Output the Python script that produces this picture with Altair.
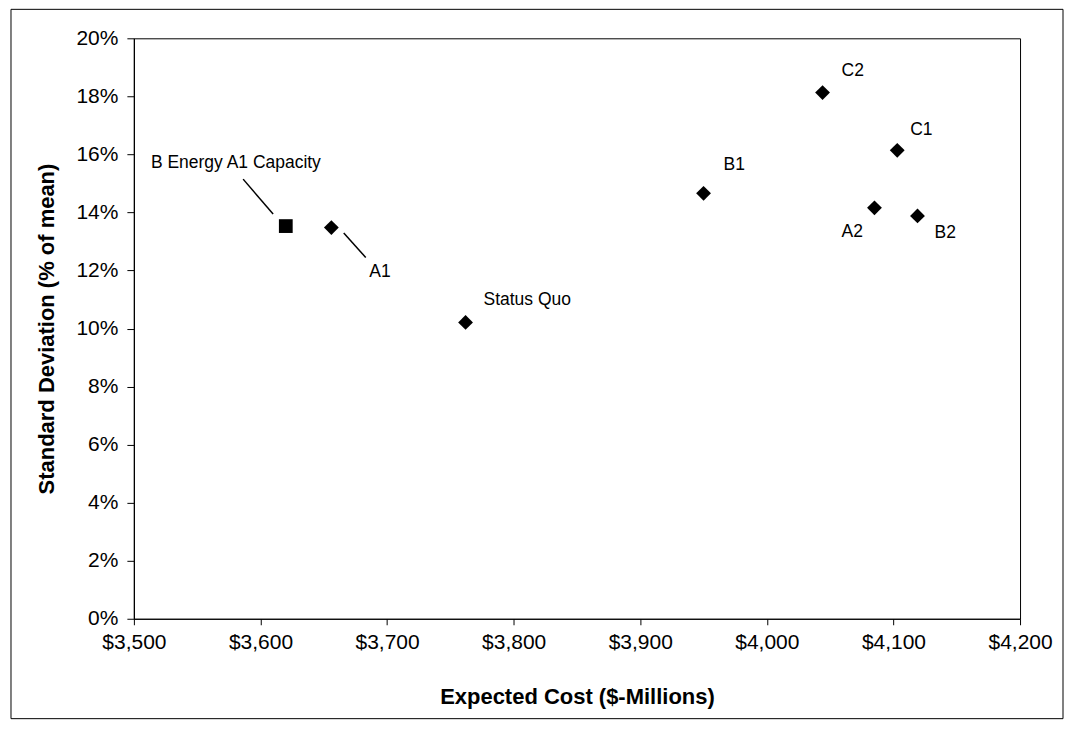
import altair as alt
import pandas as pd

# ---- data ----
names = ["B Energy A1 Capacity", "A1", "Status Quo", "B1", "C2", "A2", "C1", "B2"]
cost = [3620, 3656, 3762, 3950, 4044, 4085, 4103, 4119]        # $-Millions
sd_pct = [13.53, 13.48, 10.21, 14.66, 18.13, 14.16, 16.14, 13.88]  # % of mean
kind = ["square", "diamond", "diamond", "diamond", "diamond", "diamond", "diamond", "diamond"]

x_ticks = [3500, 3600, 3700, 3800, 3900, 4000, 4100, 4200]
y_ticks = [0, 2, 4, 6, 8, 10, 12, 14, 16, 18, 20]

df = pd.DataFrame({"name": names, "cost": cost, "sd": sd_pct, "kind": kind})

W, H = 887, 581
XDOM = [3500, 4200]
YDOM = [0, 20]
FONT = "Liberation Sans"

xs = alt.Scale(domain=XDOM, nice=False, zero=False)
ys = alt.Scale(domain=YDOM, nice=False, zero=True)

x_enc = alt.X("cost:Q", scale=xs,
              axis=alt.Axis(values=x_ticks, format="$,.0f", title="Expected Cost ($-Millions)",
                            grid=False, tickSize=6, labelPadding=7, labelFlush=False,
                            labelOverlap=False,
                            titleY=78, titleBaseline="middle"))
y_enc = alt.Y("sd:Q", scale=ys,
              axis=alt.Axis(values=y_ticks, labelExpr="datum.value + '%'",
                            title="Standard Deviation (% of mean)", grid=False,
                            tickSize=7, labelPadding=9, labelFlush=False,
                            labelOverlap=False,
                            titleX=-87, titleY=H / 2, titleAngle=-90,
                            titleAlign="center", titleBaseline="middle"))

base = alt.Chart(df)

squares = base.transform_filter("datum.kind == 'square'").mark_point(
    shape="square", filled=True, color="black", size=190, opacity=1
).encode(x=x_enc, y=y_enc)

diamonds = base.transform_filter("datum.kind == 'diamond'").mark_point(
    shape="diamond", filled=True, color="black", size=220, opacity=1
).encode(x="cost:Q", y="sd:Q")

# label offsets in pixels (style, not data)
label_offsets = {
    "B Energy A1 Capacity": (-135, -63),
    "A1": (38, 45),
    "Status Quo": (18, -22),
    "B1": (20, -28),
    "C2": (19, -22),
    "A2": (-33, 24),
    "C1": (13, -20),
    "B2": (17, 17),
}

label_layers = []
for nm, (dx, dy) in label_offsets.items():
    label_layers.append(
        base.transform_filter(alt.datum.name == nm).mark_text(
            align="left", baseline="middle", dx=dx, dy=dy,
            font=FONT, fontSize=17.5, color="black"
        ).encode(x="cost:Q", y="sd:Q", text="name:N")
    )

# leader lines: pixel offsets from the point converted through the scale factors
px_x = (XDOM[1] - XDOM[0]) / W
px_y = (YDOM[1] - YDOM[0]) / H
leaders = {
    "B Energy A1 Capacity": (-42.7, -47, -12.7, -12),
    "A1": (12.4, 5.4, 34.4, 30),
}
leader_layers = []
for nm, (x1, y1, x2, y2) in leaders.items():
    leader_layers.append(
        base.transform_filter(alt.datum.name == nm).transform_calculate(
            lx1=f"datum.cost + {x1} * {px_x}",
            ly1=f"datum.sd - {y1} * {px_y}",
            lx2=f"datum.cost + {x2} * {px_x}",
            ly2=f"datum.sd - {y2} * {px_y}",
        ).mark_rule(color="black", strokeWidth=1.5).encode(
            x="lx1:Q", y="ly1:Q", x2="lx2:Q", y2="ly2:Q"
        )
    )

frame = alt.Chart(pd.DataFrame({"a": [0]})).mark_rect(
    fill=None, stroke="black", strokeWidth=1, clip=False
).encode(x=alt.value(-123), x2=alt.value(930), y=alt.value(-29), y2=alt.value(681))

chart = alt.layer(
    squares, diamonds, *leader_layers, *label_layers, frame
).properties(
    width=W, height=H,
    autosize=alt.AutoSizeParams(type="none"),
    padding={"left": 126, "top": 30, "right": 44, "bottom": 104},
).configure_view(
    stroke="black", strokeWidth=1
).configure_axis(
    labelFont=FONT, labelFontSize=21, labelColor="black",
    titleFont=FONT, titleFontSize=22, titleFontWeight="bold", titleColor="black",
    domainColor="black", tickColor="black", domainWidth=1.2, tickWidth=1
)

chart.save("out.html", embed_options={"renderer": "svg", "actions": False})
